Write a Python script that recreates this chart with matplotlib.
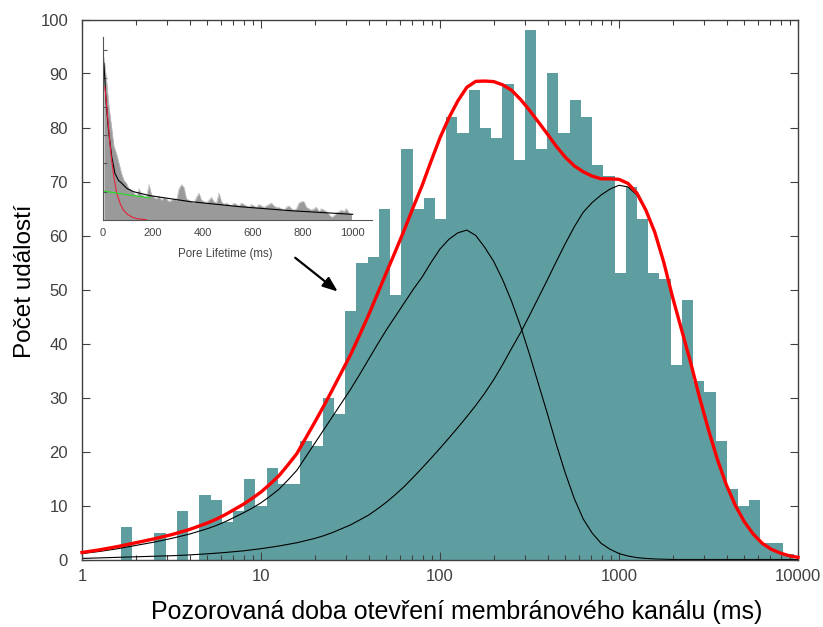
import matplotlib
matplotlib.use("Agg")
import matplotlib.pyplot as plt
import numpy as np
from matplotlib.ticker import LogLocator, NullFormatter

plt.rcParams['font.family'] = ['Liberation Sans', 'DejaVu Sans']

# histogram of open times, log-spaced bins (log10 of left edge of first bin, bin width in decades)
first_edge_log = 0.0282
bin_width_log = 0.0627
counts = [0, 0, 0, 6, 0, 0, 5, 0, 9, 0,
          12, 11, 7, 9, 15, 10, 17, 14, 14, 22,
          21, 30, 27, 46, 55, 56, 65, 49, 76, 65,
          67, 63, 82, 79, 87, 80, 78, 88, 74, 98,
          76, 90, 79, 85, 82, 73, 71, 53, 69, 63,
          53, 52, 36, 48, 33, 31, 22, 13, 10, 11,
          3, 3, 1]

# the two fitted components, sampled every 0.05 decade from 1 ms to 10 s
curve_log_t = np.linspace(0, 4, 81)
fast_component = [1.1, 1.3, 1.5, 1.75, 2.0, 2.3, 2.6, 2.9, 3.2, 3.55,
                  3.9, 4.3, 4.7, 5.2, 5.7, 6.3, 7.0, 7.8, 8.6, 9.5,
                  10.5, 11.7, 13.0, 14.7, 16.5, 19.0, 21.5, 24.0, 26.5, 29.0,
                  31.5, 34.2, 37.0, 39.8, 42.5, 45.0, 47.5, 50.0, 52.3, 55.0,
                  57.5, 59.3, 60.5, 61.0, 60.0, 57.8, 55.2, 51.8, 47.8, 43.2,
                  38.0, 32.5, 27.0, 21.3, 16.0, 11.3, 7.5, 4.9, 3.0, 1.9,
                  1.1, 0.65, 0.35, 0.2, 0.1, 0.05, 0, 0, 0, 0,
                  0, 0, 0, 0, 0, 0, 0, 0, 0, 0, 0]
slow_component = [0.2, 0.25, 0.3, 0.35, 0.4, 0.45, 0.5, 0.55, 0.6, 0.65,
                  0.7, 0.77, 0.85, 0.95, 1.05, 1.17, 1.3, 1.45, 1.6, 1.8,
                  2.0, 2.25, 2.5, 2.8, 3.1, 3.5, 3.9, 4.4, 5.0, 5.7,
                  6.4, 7.3, 8.2, 9.35, 10.6, 12.0, 13.5, 15.2, 16.95, 18.75,
                  20.6, 22.5, 24.45, 26.45, 28.55, 30.8, 33.3, 36.1, 39.1, 42.0,
                  45.2, 48.5, 51.8, 55.2, 58.5, 61.6, 64.3, 66.1, 67.5, 68.6,
                  69.3, 69.0, 67.5, 64.5, 60.5, 55.0, 48.5, 42.5, 36.5, 30.0,
                  24.0, 18.5, 13.8, 10.0, 7.0, 4.7, 3.0, 1.9, 1.2, 0.7, 0.4]

# inset: linear histogram of pore lifetimes, 10 ms bins
inset_counts = [115, 99, 80, 66, 52, 47, 40, 33, 28, 26,
                22, 21, 19, 17, 22, 18, 17, 16, 25, 18,
                16, 15, 17, 14, 16, 15, 13, 14, 15, 14,
                22, 25, 23, 15, 14, 13, 12, 16, 19, 14,
                13, 12, 14, 16, 13, 12, 19, 13, 11, 12,
                11, 10, 12, 11, 10, 12, 11, 10, 9, 11,
                10, 9, 11, 10, 9, 10, 11, 12, 10, 9,
                9, 8, 7, 9, 10, 8, 7, 8, 12, 13,
                13, 9, 8, 7, 8, 9, 6, 8, 7, 6,
                4, 2, 3, 5, 6, 7, 6, 8, 5, 4]
fit_t = [5, 13, 23, 36, 49, 63, 76, 96, 123, 189, 349, 549, 749, 1000]
fit_total = [110.7, 85, 63.6, 44.8, 33, 28, 26, 22.4, 20, 17.2, 13, 9.4, 6.6, 4.0]
fast_t = [9, 15, 23, 30, 36, 45, 56, 70, 83, 100, 120, 140, 175]
fast_fit = [94, 82, 66, 52, 42, 30, 19, 11.5, 7, 3.8, 1.8, 0.8, 0.2]
slow_t = [0, 50, 100, 150, 190]
slow_fit = [20.5, 19.2, 17.8, 16.6, 15.6]

W, H = 823, 627
fig = plt.figure(figsize=(W / 100, H / 100), dpi=100)
ax = fig.add_axes([82 / W, 1 - 559.5 / H, 716 / W, 540 / H])

edges = 10 ** (first_edge_log + bin_width_log * np.arange(len(counts) + 1))
ax.bar(edges[:-1], counts, width=np.diff(edges), align='edge',
       color='#5f9ea0', edgecolor='none', zorder=1)

t = 10 ** curve_log_t
fast = np.array(fast_component)
slow = np.array(slow_component)
ax.plot(t, fast, color='black', lw=0.8, zorder=2)
ax.plot(t, slow, color='black', lw=0.8, zorder=2)
ax.plot(t, fast + slow, color='#ff0000', lw=2.4, zorder=3, clip_on=False,
        solid_joinstyle='round')

ax.set_xscale('log')
ax.set_xlim(1, 10000)
ax.set_ylim(0, 100)
ax.set_xticks([1, 10, 100, 1000, 10000], labels=['1', '10', '100', '1000', '10000'])
ax.xaxis.set_minor_locator(LogLocator(base=10, subs=np.arange(2, 10)))
ax.xaxis.set_minor_formatter(NullFormatter())
ax.set_yticks(np.arange(0, 101, 10))
ax.tick_params(which='both', direction='in', top=True, right=True,
               colors='#404040', labelsize=12)
ax.tick_params(which='major', length=6, width=0.8)
ax.tick_params(which='minor', length=3.5, width=0.8)
ax.tick_params(axis='x', pad=7)
ax.tick_params(axis='y', pad=10)
for s in ax.spines.values():
    s.set_color('#404040')
    s.set_linewidth(1.0)

fig.text(457 / W, 1 - 612 / H, 'Pozorovaná doba otevření membránového kanálu (ms)',
         ha='center', va='center', fontsize=18)
fig.text(25 / W, 1 - 281 / H, 'Počet událostí', rotation=90,
         ha='center', va='center', fontsize=17.5)

ax.annotate('', xy=(27.6, 49.3), xytext=(15.1, 56.2),
            arrowprops=dict(arrowstyle='-|>,head_length=0.9,head_width=0.35',
                            color='black', lw=1.6))

# inset
ins = fig.add_axes([102.7 / W, 1 - 220 / H, 269 / W, 183.3 / H])
ins.set_facecolor('none')
centers = 5 + 10 * np.arange(len(inset_counts))
ins.fill_between(centers, inset_counts, color='#9a9a9a', lw=0)
ins.plot(centers, inset_counts, color='#c0c0c0', lw=0.5)
ins.plot(fit_t, fit_total, color='black', lw=0.8)
ins.plot(fast_t, fast_fit, color='#e8203a', lw=0.8)
ins.plot(slow_t, slow_fit, color='#22dd22', lw=0.8)
ins.set_xlim(0, 1076)
ins.set_ylim(0, 129.5)
ins.set_xticks(np.arange(0, 1001, 200))
ins.set_yticks(np.arange(20, 121, 20))
ins.set_yticklabels([])
ins.tick_params(axis='y', direction='in', length=3, color='#555555')
ins.tick_params(axis='x', length=0, labelsize=8, labelcolor='#444444', pad=6)
ins.set_xlabel('Pore Lifetime (ms)', fontsize=8.3, color='#444444', labelpad=7)
ins.xaxis.set_label_coords(0.455, -0.155)
for side in ('top', 'right'):
    ins.spines[side].set_visible(False)
for side in ('left', 'bottom'):
    ins.spines[side].set_color('#555555')
    ins.spines[side].set_linewidth(0.8)

fig.savefig('out.png', dpi=100)
